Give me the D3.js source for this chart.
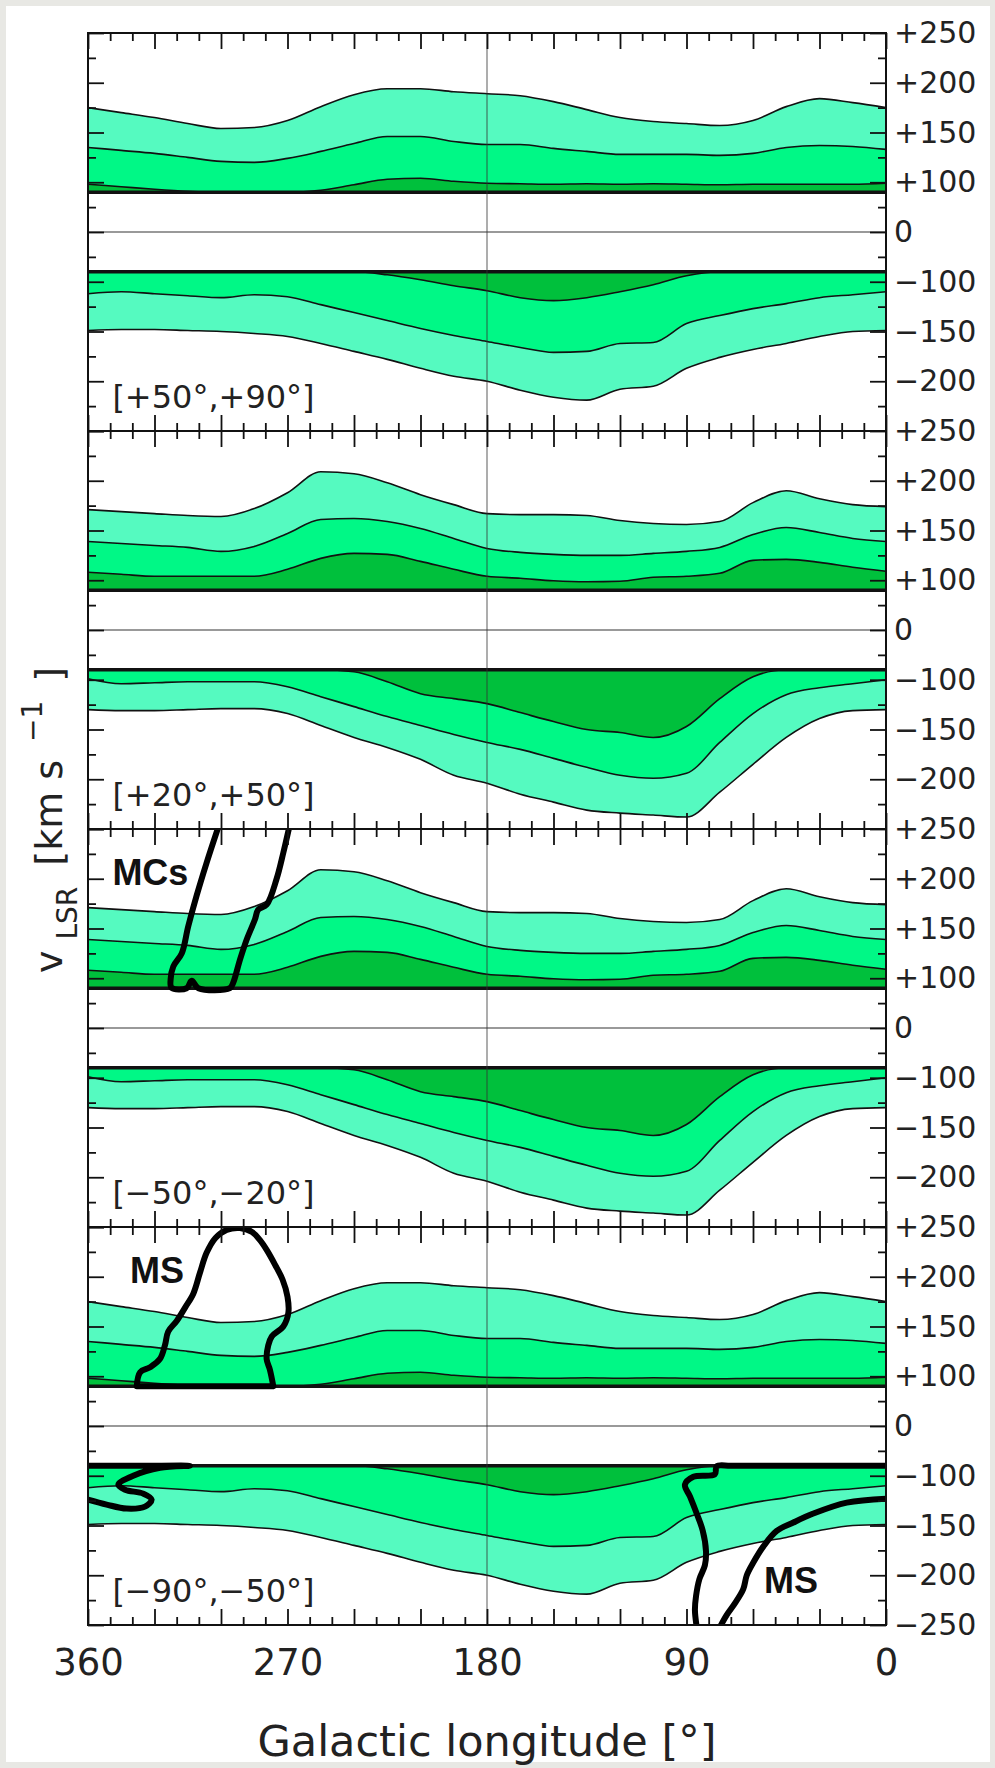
<!DOCTYPE html>
<html>
<head>
<meta charset="utf-8">
<script src="https://cdn.jsdelivr.net/npm/d3@7"></script>
<style>
  html, body { margin: 0; padding: 0; background: #e8e8e4; }
  svg { display: block; }
</style>
</head>
<body>
<div id="chart"></div>
<script>
// Velocity model bands (v_LSR vs galactic longitude) in four latitude panels

// Longitude grid shared by all band series
const longitudes = [360, 345, 330, 315, 300, 285, 270, 255, 240, 225, 210, 195, 180,
                    165, 150, 135, 120, 105, 90, 75, 60, 45, 30, 15, 0];

// |b| in [50°,90°] model (outer, middle, inner contour), positive velocities
const highPosOuter  = [175, 170, 165, 159, 154, 155, 162, 176, 188, 194, 194, 191, 189, 187, 181, 173, 165, 161, 159, 157, 162, 176, 184, 180, 175];
const highPosMiddle = [135, 132, 129, 125, 121, 120, 124, 131, 139, 146, 146, 141, 138, 138, 134, 131, 128, 128, 128, 127, 129, 135, 137, 136, 133];
const highPosInner  = [96, 91, 86, 82, 80, 80, 80, 84, 95, 103, 104, 101, 98, 97, 96, 97, 96, 97, 96, 95, 96, 96, 96, 96, 98];
// negative velocities
const highNegOuter  = [-149, -148, -148, -149, -150, -152, -155, -162, -170, -178, -187, -195, -200, -209, -216, -219, -208, -205, -187, -176, -168, -162, -155, -150, -149];
const highNegMiddle = [-112, -110, -112, -114, -116, -113, -115, -123, -131, -139, -147, -154, -160, -166, -171, -170, -162, -161, -142, -134, -127, -122, -116, -113, -110];
const highNegInner  = [-80, -80, -80, -80, -80, -80, -80, -80, -80, -86, -96, -104, -109, -116, -119, -116, -110, -103, -88, -80, -80, -80, -80, -80, -80];

// |b| in [20°,50°] model
const midPosOuter  = [171, 169, 167, 165, 164, 172, 188, 209, 207, 198, 186, 176, 167, 166, 166, 165, 160, 157, 156, 159, 178, 190, 182, 176, 174];
const midPosMiddle = [139, 137, 135, 133, 129, 134, 147, 161, 162, 159, 152, 142, 132, 128, 126, 125, 125, 127, 129, 133, 146, 153, 148, 142, 139];
const midPosInner  = [108, 106, 104, 104, 104, 104, 111, 122, 127, 126, 119, 111, 104, 102, 99, 97, 98, 103, 104, 107, 120, 121, 118, 113, 109];
const midNegOuter  = [-130, -131, -131, -130, -129, -129, -134, -146, -158, -168, -180, -196, -204, -215, -223, -231, -234, -236, -238, -213, -185, -158, -139, -131, -130];
const midNegMiddle = [-98, -104, -103, -102, -102, -102, -107, -117, -127, -137, -146, -155, -163, -170, -179, -188, -196, -199, -194, -163, -134, -115, -108, -104, -100];
const midNegInner  = [-80, -80, -80, -80, -80, -80, -80, -80, -84, -102, -114, -119, -124, -133, -142, -150, -153, -158, -147, -119, -94, -80, -80, -80, -80];

// Panels, top to bottom
const panelLabels = ["[+50°,+90°]", "[+20°,+50°]", "[−50°,−20°]", "[−90°,−50°]"];
const panelModels = ["high", "mid", "mid", "high"];

// Velocity where the shaded bands start
const bandEdge = 80;

// Tick values
const vMajorTicks = [250, 200, 150, 100, 0, -100, -150, -200, -250];
const vMinorTicks = [225, 175, 125, 50, -50, -125, -175, -225];
const lMajorTicks = [360, 330, 300, 270, 240, 210, 180, 150, 120, 90, 60, 30, 0];
const lMinorTicks = [350, 340, 320, 310, 290, 280, 260, 250, 230, 220, 200, 190, 170, 160,
                     140, 130, 110, 100, 80, 70, 50, 40, 20, 10];
const lLabelTicks = [360, 270, 180, 90, 0];

// Magellanic Clouds and Magellanic Stream contours [l, v]
const mcsContour = [[301.2, 252], [306.5, 216], [311, 183], [314.8, 152], [317.7, 125], [321.5, 112],
                    [322.7, 99], [322.3, 81], [315.5, 80], [313.2, 95], [310.2, 80], [296, 80],
                    [294.5, 91], [291.4, 119], [288.4, 139], [284.7, 159], [283.2, 169], [279.4, 174],
                    [274.9, 200], [271.9, 226], [269.2, 252]];
const msUpperContour = [[338, 80], [336.5, 104], [332, 109], [327.5, 117.5], [325.3, 131], [323.8, 145],
                        [320, 155.5], [316.2, 169], [312.5, 183], [309.5, 204], [306.5, 224], [302.5, 239],
                        [297.5, 247], [291.5, 249], [286, 245], [282.5, 237], [279.4, 227], [275.6, 212],
                        [272.2, 197], [270, 180], [269.6, 164], [271.9, 150], [277.1, 140], [278.7, 131],
                        [279.4, 117], [278, 107], [276.4, 80]];
const msLowerLeft = [[360, -80], [336, -80], [314, -80], [327.5, -84], [339.6, -100], [346.3, -109],
                     [343.3, -114], [335, -118], [331.3, -124], [334.3, -131], [342.6, -133], [351.6, -129],
                     [360, -124]];
const msLowerRightA = [[0, -80], [25, -80], [50, -80], [70, -80], [76.4, -81], [77.2, -97], [86.9, -101],
                       [90.7, -109], [88.4, -121], [85.4, -138], [82.7, -155], [81.2, -176], [81.7, -190],
                       [84.2, -204], [85.7, -221], [86.2, -235], [85.4, -252]];
const msLowerRightB = [[0, -123], [17.7, -127], [32.8, -138], [41.8, -147], [49.3, -155.5], [55.3, -171],
                       [59.8, -187], [62.8, -200], [64.4, -214], [68.1, -228], [71.9, -240], [74.9, -252]];

const models = {
    high: { pos: [highPosOuter, highPosMiddle, highPosInner], neg: [highNegOuter, highNegMiddle, highNegInner] },
    mid:  { pos: [midPosOuter, midPosMiddle, midPosInner],   neg: [midNegOuter, midNegMiddle, midNegInner] }
};

const overlays = [
    { panel: 2, points: mcsContour, closed: false },
    { panel: 3, points: msUpperContour, closed: true },
    { panel: 3, points: msLowerLeft, closed: false },
    { panel: 3, points: msLowerRightA, closed: false },
    { panel: 3, points: msLowerRightB, closed: false }
];

const overlayLabels = [
    { panel: 2, text: "MCs", l: 349, v: 194 },
    { panel: 3, text: "MS", l: 341, v: 194 },
    { panel: 3, text: "MS", l: 55, v: -218 }
];

const bandColors = ["#55fac0", "#00f886", "#00c03c"];  // outer, middle, inner

function createVelocityPanels() {
    const W = 995, H = 1768;
    const plotTop = 33, panelH = 398;
    const plotLeft = 88, plotRight = 886;
    const fontMain = "'DejaVu Sans', sans-serif";

    d3.select("#chart").html("");

    const svg = d3.select("#chart")
        .append("svg")
        .attr("width", W)
        .attr("height", H);

    // white sheet inside the grey frame
    svg.append("rect")
        .attr("x", 6).attr("y", 6)
        .attr("width", 984).attr("height", 1756)
        .attr("fill", "#fff");

    const defs = svg.append("defs");

    const x = d3.scaleLinear().domain([360, 0]).range([plotLeft, plotRight]);

    function yFor(i) {
        const top = plotTop + i * panelH;
        return d3.scaleLinear()
            .domain([-250, -100, 100, 250])
            .range([top + panelH, top + panelH * 5 / 8, top + panelH * 3 / 8, top]);
    }

    const fmtV = d => d > 0 ? "+" + d : (d < 0 ? "\u2212" + Math.abs(d) : "0");

    function styleAxis(g) {
        g.select(".domain").remove();
        g.selectAll(".tick line").attr("stroke", "#111").attr("stroke-width", 1.8);
        g.selectAll(".tick text")
            .attr("fill", "#222")
            .attr("font-family", fontMain);
    }

    panelLabels.forEach((label, i) => {
        const y = yFor(i);
        const top = plotTop + i * panelH;
        const bottom = top + panelH;
        const model = models[panelModels[i]];
        const g = svg.append("g").attr("class", "panel");

        defs.append("clipPath").attr("id", "clip" + i)
            .append("rect")
            .attr("x", plotLeft).attr("y", top)
            .attr("width", plotRight - plotLeft).attr("height", panelH);

        const body = g.append("g").attr("clip-path", `url(#clip${i})`);

        // shaded bands: positive velocities grow up from +80, negative down from -80
        [["pos", bandEdge], ["neg", -bandEdge]].forEach(([side, base]) => {
            const series = model[side];
            series.forEach((vals, k) => {
                const pts = longitudes.map((l, j) => [l, vals[j]]);
                body.append("path")
                    .datum(pts)
                    .attr("fill", bandColors[k])
                    .attr("d", d3.area()
                        .curve(d3.curveMonotoneX)
                        .x(d => x(d[0]))
                        .y0(y(base))
                        .y1(d => y(d[1])));
            });
            series.forEach(vals => {
                const pts = longitudes.map((l, j) => [l, vals[j]]);
                body.append("path")
                    .datum(pts)
                    .attr("fill", "none")
                    .attr("stroke", "#111")
                    .attr("stroke-width", 1.6)
                    .attr("d", d3.line()
                        .curve(d3.curveMonotoneX)
                        .x(d => x(d[0]))
                        .y(d => y(d[1])));
            });
            // heavy base line of the band
            body.append("line")
                .attr("x1", plotLeft).attr("x2", plotRight)
                .attr("y1", y(base)).attr("y2", y(base))
                .attr("stroke", "#111")
                .attr("stroke-width", 3.5);
        });

        // zero velocity line
        body.append("line")
            .attr("x1", plotLeft).attr("x2", plotRight)
            .attr("y1", y(0)).attr("y2", y(0))
            .attr("stroke", "#777")
            .attr("stroke-width", 1.5);

        // l = 180 reference line
        body.append("line")
            .attr("x1", x(180)).attr("x2", x(180))
            .attr("y1", top).attr("y2", bottom)
            .attr("stroke", "#333")
            .attr("stroke-opacity", 0.5)
            .attr("stroke-width", 1.6);

        // MS / MCs contours
        overlays.filter(o => o.panel === i).forEach(o => {
            const path = d3.line()
                .curve(d3.curveCatmullRom.alpha(0.5))
                .x(d => x(d[0]))
                .y(d => y(d[1]))(o.points);
            body.append("path")
                .attr("d", o.closed ? path + "Z" : path)
                .attr("fill", "none")
                .attr("stroke", "#000")
                .attr("stroke-width", 6)
                .attr("stroke-linejoin", "round")
                .attr("stroke-linecap", "round");
        });

        overlayLabels.filter(o => o.panel === i).forEach(o => {
            g.append("text")
                .attr("x", x(o.l))
                .attr("y", y(o.v))
                .attr("font-family", "'Liberation Sans', Arial, sans-serif")
                .attr("font-weight", "bold")
                .attr("font-size", 36)
                .attr("fill", "#111")
                .text(o.text);
        });

        // latitude range label
        g.append("text")
            .attr("x", x(349))
            .attr("y", y(-227))
            .attr("font-family", fontMain)
            .attr("font-size", 32)
            .attr("fill", "#222")
            .text(label);

        // ticks on all four sides, pointing inward
        g.append("g").attr("transform", `translate(0,${top})`)
            .call(d3.axisTop(x).tickValues(lMajorTicks).tickSize(-16).tickFormat(""))
            .call(styleAxis);
        g.append("g").attr("transform", `translate(0,${top})`)
            .call(d3.axisTop(x).tickValues(lMinorTicks).tickSize(-8).tickFormat(""))
            .call(styleAxis);
        g.append("g").attr("transform", `translate(0,${bottom})`)
            .call(d3.axisBottom(x).tickValues(lMajorTicks).tickSize(-16).tickFormat(""))
            .call(styleAxis);
        g.append("g").attr("transform", `translate(0,${bottom})`)
            .call(d3.axisBottom(x).tickValues(lMinorTicks).tickSize(-8).tickFormat(""))
            .call(styleAxis);

        g.append("g").attr("transform", `translate(${plotLeft},0)`)
            .call(d3.axisLeft(y).tickValues(vMajorTicks).tickSize(-16).tickFormat(""))
            .call(styleAxis);
        g.append("g").attr("transform", `translate(${plotLeft},0)`)
            .call(d3.axisLeft(y).tickValues(vMinorTicks).tickSize(-8).tickFormat(""))
            .call(styleAxis);

        const rightLabels = i === panelLabels.length - 1 ? vMajorTicks : vMajorTicks.slice(0, -1);
        g.append("g").attr("transform", `translate(${plotRight},0)`)
            .call(d3.axisRight(y).tickValues(rightLabels).tickSize(-16).tickPadding(8).tickFormat(fmtV))
            .call(styleAxis)
            .call(a => a.selectAll(".tick text").attr("font-size", 30));
        g.append("g").attr("transform", `translate(${plotRight},0)`)
            .call(d3.axisRight(y).tickValues(vMinorTicks).tickSize(-8).tickFormat(""))
            .call(styleAxis);

        // frame
        g.append("rect")
            .attr("x", plotLeft).attr("y", top)
            .attr("width", plotRight - plotLeft).attr("height", panelH)
            .attr("fill", "none")
            .attr("stroke", "#111")
            .attr("stroke-width", 2);
    });

    const plotBottom = plotTop + panelLabels.length * panelH;

    // longitude labels under the last panel
    svg.append("g").attr("transform", `translate(0,${plotBottom})`)
        .call(d3.axisBottom(x).tickValues(lLabelTicks).tickSize(0).tickPadding(24).tickFormat(d3.format("d")))
        .call(styleAxis)
        .call(a => a.selectAll(".tick text").attr("font-size", 37));

    // x axis title
    svg.append("text")
        .attr("x", (plotLeft + plotRight) / 2)
        .attr("y", 1756)
        .attr("text-anchor", "middle")
        .attr("font-family", fontMain)
        .attr("font-size", 43)
        .attr("fill", "#222")
        .text("Galactic longitude [°]");

    // y axis title: v_LSR [km s^-1]
    const yTitle = svg.append("text")
        .attr("transform", "translate(62,973) rotate(-90)")
        .attr("font-family", fontMain)
        .attr("font-size", 38)
        .attr("fill", "#222");
    yTitle.append("tspan").text("v");
    yTitle.append("tspan").attr("font-size", 28).attr("dx", 11).attr("dy", 15).text("LSR");
    yTitle.append("tspan").attr("dx", 21).attr("dy", -15).text("[km s");
    yTitle.append("tspan").attr("font-size", 28).attr("dx", 18).attr("dy", -20).text("\u22121");
    yTitle.append("tspan").attr("dx", 19).attr("dy", 20).text("]");
}

createVelocityPanels();
</script>
</body>
</html>
